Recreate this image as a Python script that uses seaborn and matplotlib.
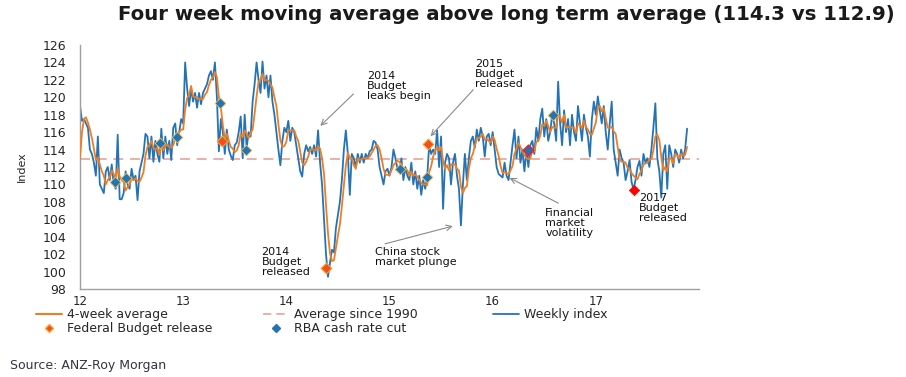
import matplotlib
matplotlib.use("Agg")
import matplotlib.pyplot as plt
import pandas as pd
import seaborn as sns
from matplotlib.lines import Line2D

# weekly consumer confidence index, one list per year (axis labels are 2-digit years)
weekly_2012 = [119, 117.3, 117.5, 117, 116.5, 114, 113.5, 112.5, 111, 115.5, 110, 109.5, 109, 111.5, 112,
               110.5, 112.3, 110, 109.5, 115.7, 108.3, 108.3, 109, 111.5, 110, 109.5, 111.8, 110.5, 111,
               108.2, 111.5, 112.5, 113.5, 115.8, 115.5, 113, 115.5, 112.6, 115, 113.5, 112.6, 116.4, 113,
               115.5, 113.5, 115, 112.8, 116.5, 117, 114.5, 116, 117.5]
weekly_2013 = [117, 124, 121, 119, 121, 119.5, 120.5, 118.8, 120.5, 119.2, 120.5, 121, 121.5, 122.5, 123,
               122, 124, 120, 113.8, 117.5, 116, 113.5, 116.3, 114, 113.3, 112.8, 114.5, 114.8, 116, 117.8,
               113, 118, 114.2, 116, 115.5, 119.5, 121.5, 124, 122, 120.5, 124.1, 121, 122.5, 120, 122.5,
               119.5, 118, 116, 114, 112.2, 115, 116.5]
weekly_2014 = [116, 117.3, 115, 116.5, 116, 114.5, 113, 111.5, 110.9, 113.5, 114.5, 113.8, 114.3, 113.5,
               114.5, 113.2, 116.2, 112.5, 110, 106, 102, 99.4, 101, 102.5, 102.2, 105, 106.5, 108, 110.5,
               114, 116.2, 113.5, 108.8, 113.5, 113, 112, 113.5, 112.5, 113.5, 112.5, 113.5, 113, 113.8,
               114, 115, 114.8, 114, 112, 111, 110, 111.5, 111.8]
weekly_2015 = [111, 112, 114, 113, 111.8, 111.5, 113, 110.5, 112, 111, 110.5, 112.5, 110, 111.5, 109.5, 111,
               108.8, 110.5, 109.5, 110.9, 114.5, 113.5, 114, 113.5, 116.2, 112, 115.5, 107.2, 112.5, 113.5,
               113, 110, 112.5, 113.5, 111, 109.5, 105.3, 110, 113.5, 110.5, 113, 115, 115.5, 114.2, 116.3,
               115, 116.5, 115.5, 113.2, 115.5, 115.8, 114.5]
weekly_2016 = [116, 114, 112, 111.2, 111, 110.8, 112.5, 111, 110.5, 112.5, 114.5, 116.3, 113, 115.5, 112.5,
               114, 111.5, 113.9, 112, 114.5, 115, 113.5, 116.5, 115, 117.5, 118.7, 115.5, 117.5, 115, 116,
               118, 117, 115, 121.8, 117, 114.5, 118.5, 116, 117.5, 114.5, 118, 116, 115, 119, 117, 115, 118,
               116.5, 115.5, 113.2, 117.5, 119.5]
weekly_2017 = [118, 120.1, 118.5, 117, 119, 116, 114, 117, 119.5, 114, 112.5, 111, 114, 113, 112.5, 110.5,
               111.5, 112.8, 110.3, 109.4, 110.5, 112, 112.7, 111, 113.5, 112.5, 113, 112, 114, 116.5, 119.3,
               113, 111.5, 108.5, 113.5, 114.5, 109.5, 114.5, 113.5, 112, 114, 113.5, 112.5, 114, 113, 114,
               116.4]

# four week moving average, read alongside the weekly line
avg_2012 = [113, 116, 117.5, 117.7, 117.1, 116.3, 115.3, 114.1, 112.8, 113.1, 112.3, 111.5, 111, 110,
            110.5, 110.8, 111.6, 111.2, 110.6, 111.9, 110.9, 110.5, 110.3, 109.3, 109.7, 110, 110.7, 110.5,
            110.7, 110.4, 110.3, 110.8, 111.4, 113.3, 114.3, 114.5, 115, 114.2, 114, 114.2, 113.4, 114.4,
            113.9, 114.4, 114.6, 114.3, 114.2, 114.5, 115.3, 115.2, 116, 116.3]
avg_2013 = [116.3, 118.6, 119.9, 120.3, 121.3, 120.1, 120, 120, 119.8, 119.8, 119.8, 120.3, 120.6, 121.4,
            122, 122.3, 122.9, 122.3, 120, 118.8, 116.8, 115.2, 115.8, 115, 114.3, 114.1, 113.7, 113.9,
            114.5, 115.8, 115.4, 116.2, 115.8, 115.3, 115.9, 116.3, 118.1, 120.1, 121.8, 122, 122.7, 121.9,
            122, 121.9, 121.5, 121.1, 120, 119, 116.9, 115.1, 114.3, 114.4]
avg_2014 = [114.9, 116.2, 116.2, 116.2, 116.2, 115.5, 115, 113.8, 112.5, 112.2, 112.6, 113.2, 114, 114,
            114, 113.9, 114.4, 114.1, 113, 111.2, 107.6, 104.4, 102.1, 101.2, 101.3, 102.7, 104.1, 105.4,
            107.5, 109.8, 112.2, 113.6, 113.1, 113, 112.2, 111.8, 113, 112.8, 112.9, 113, 113, 113.1, 113.2,
            113.6, 114, 114.4, 114.5, 114, 113, 111.8, 111.1, 111.1]
avg_2015 = [111.1, 111.6, 112.2, 112.5, 112.7, 112.6, 112.3, 111.7, 111.8, 111.6, 111, 111.5, 111, 111.1,
            110.9, 110.5, 110.2, 110, 110, 109.9, 111.4, 112.1, 113.2, 113.9, 114.3, 113.9, 114.3, 112.7,
            111.8, 112.2, 111.6, 112.3, 112.3, 112.3, 111.8, 111.6, 109.8, 109, 109.6, 109.8, 111.8, 113,
            113.5, 114.4, 115.3, 115.3, 115.5, 115.8, 115.1, 115.2, 115, 114.8]
avg_2016 = [115.5, 115.1, 114.1, 113.3, 112.1, 111.3, 111.4, 111.3, 111.2, 111.6, 112.1, 113.5, 114.1,
            114.8, 114.3, 113.8, 113.4, 113, 112.9, 113, 113.9, 113.8, 114.9, 115, 115.6, 116.9, 116.7,
            117.3, 116.7, 116, 116.6, 116.5, 116.5, 118, 117.7, 117.1, 118, 116.5, 116.6, 116.6, 116.5,
            116.5, 115.9, 117, 116.8, 116.5, 117.3, 116.6, 116.3, 115.8, 115.7, 116.4]
avg_2017 = [117.1, 118.8, 119, 118.4, 118.7, 117.6, 116.5, 116.5, 116.6, 116.1, 115.8, 114.3, 112.9, 112.6,
            112.6, 112.5, 111.9, 111.8, 111.3, 111, 110.8, 110.6, 111.2, 111.6, 112.3, 112.4, 112.5, 112.8,
            112.9, 113.9, 115.5, 115.7, 115.1, 113.1, 111.6, 112, 111.5, 113, 113, 112.4, 113.5, 113.3, 113,
            113.5, 113.3, 113.4, 114.3]

years = [12, 13, 14, 15, 16, 17]
weekly_by_year = [weekly_2012, weekly_2013, weekly_2014, weekly_2015, weekly_2016, weekly_2017]
avg_by_year = [avg_2012, avg_2013, avg_2014, avg_2015, avg_2016, avg_2017]
long_run_avg = 112.9

budget_t = [13.38, 14.38, 15.37, 16.34]
budget_v = [115.0, 100.4, 114.6, 113.9]
budget17_t = [17.37]
budget17_v = [109.4]
rba_t = [12.34, 12.45, 12.78, 12.94, 13.36, 13.61, 15.10, 15.36, 16.34, 16.58]
rba_v = [110.3, 110.7, 114.8, 115.4, 119.3, 113.9, 111.8, 110.9, 113.9, 118.0]

rows = []
for yr, w, a in zip(years, weekly_by_year, avg_by_year):
    for i in range(len(w)):
        rows.append((yr + i / 52, w[i], a[i]))
df = pd.DataFrame(rows, columns=["t", "weekly", "avg"])

sns.set_style("white")
plt.rcParams['font.family'] = ['DejaVu Sans']

BLUE = '#2474B5'
ORANGE = '#EE7D24'
PINK = '#E8A39B'

fig = plt.figure(figsize=(9.06, 3.77), dpi=100)
ax = fig.add_axes([80 / 906, 1 - 289 / 377, 619 / 906, 244 / 377])

ax.axhline(long_run_avg, color=PINK, lw=1.2, dashes=(6, 4), zorder=1)
sns.lineplot(data=df, x='t', y='weekly', color=BLUE, lw=1.3, ax=ax, zorder=2)
sns.lineplot(data=df, x='t', y='avg', color=ORANGE, lw=1.3, ax=ax, zorder=3)

sns.scatterplot(x=rba_t, y=rba_v, marker='D', s=30, color=BLUE, edgecolor='#F2C14E',
                linewidth=0.6, ax=ax, zorder=5)
sns.scatterplot(x=budget_t[:3], y=budget_v[:3], marker='D', s=30, color='#F0501E', edgecolor='#F7A531',
                linewidth=0.8, ax=ax, zorder=6)
sns.scatterplot(x=budget_t[3:], y=budget_v[3:], marker='D', s=30, color=BLUE, edgecolor='#E8202A',
                linewidth=1.0, ax=ax, zorder=6)
sns.scatterplot(x=budget17_t, y=budget17_v, marker='D', s=28, color='#FF0000', edgecolor='#FF0000',
                linewidth=0.5, ax=ax, zorder=6)

ax.set_xlim(12, 18)
ax.set_ylim(98, 126)
ax.set_xticks(years)
ax.set_xticklabels([str(y) for y in years])
ax.set_yticks(range(98, 127, 2))
ax.set_xlabel('')
ax.set_ylabel('Index', fontsize=8)
ax.yaxis.set_label_coords(-53 / 619, 0.5)
ax.tick_params(axis='both', labelsize=9, length=3, width=0.8, color='#999999', direction='out')
ax.tick_params(axis='y', pad=7)
ax.tick_params(axis='x', labelsize=8.5, length=2.5, pad=1.5)
for s in ['top', 'right']:
    ax.spines[s].set_visible(False)
for s in ['left', 'bottom']:
    ax.spines[s].set_color('#A0A0A0')
    ax.spines[s].set_linewidth(1.0)

# annotations
note_kw = dict(fontsize=8, linespacing=1.0, va='top', ha='left', color='#111111')
arrow_kw = dict(arrowstyle='->', color='#8A8A8A', lw=0.8)
ax.text(14.78, 123.0, "2014\nBudget\nleaks begin", **note_kw)
ax.annotate('', xy=(14.31, 116.5), xytext=(14.67, 120.6), arrowprops=arrow_kw)
ax.text(15.83, 124.4, "2015\nBudget\nreleased", **note_kw)
ax.annotate('', xy=(15.38, 115.3), xytext=(15.83, 121.1), arrowprops=arrow_kw)
ax.text(13.76, 102.8, "2014\nBudget\nreleased", **note_kw)
ax.text(14.86, 102.8, "China stock\nmarket plunge", **note_kw)
ax.annotate('', xy=(15.64, 105.3), xytext=(14.93, 103.1), arrowprops=arrow_kw)
ax.text(16.51, 107.3, "Financial\nmarket\nvolatility", **note_kw)
ax.annotate('', xy=(16.14, 110.9), xytext=(16.66, 107.7), arrowprops=arrow_kw)
ax.text(17.42, 109.0, "2017\nBudget\nreleased", **note_kw)

# legend, three columns placed like the original
h_avg = Line2D([], [], color=ORANGE, lw=1.5)
h_budget = Line2D([], [], color='#F0501E', marker='D', ms=4, ls='none', markeredgecolor='#F7A531')
h_mean = Line2D([], [], color=PINK, lw=1.2, dashes=(5, 3))
h_rba = Line2D([], [], color=BLUE, marker='D', ms=4, ls='none')
h_weekly = Line2D([], [], color=BLUE, lw=1.3)
leg_kw = dict(loc='upper left', frameon=False, fontsize=9, handlelength=2.1, handletextpad=0.35,
              labelspacing=0.1, borderpad=0, borderaxespad=0)
leg_top = 1 - 308 / 377
fig.legend([h_avg, h_budget], ["4-week average", "Federal Budget release"],
           bbox_to_anchor=(36 / 906, leg_top), **leg_kw)
fig.legend([h_mean, h_rba], ["Average since 1990", "RBA cash rate cut"],
           bbox_to_anchor=(263 / 906, leg_top), **leg_kw)
fig.legend([h_weekly], ["Weekly index"],
           bbox_to_anchor=(493 / 906, leg_top), **leg_kw)

fig.text(506 / 906, 1 - 14 / 377, "Four week moving average above long term average (114.3 vs 112.9)",
         ha='center', va='center', fontsize=14.2, fontweight='bold', color='#1a1a1a')
fig.text(10 / 906, 1 - 365 / 377, "Source: ANZ-Roy Morgan", fontsize=9, va='center', color='#333344')

fig.savefig("out.png", dpi=100)
